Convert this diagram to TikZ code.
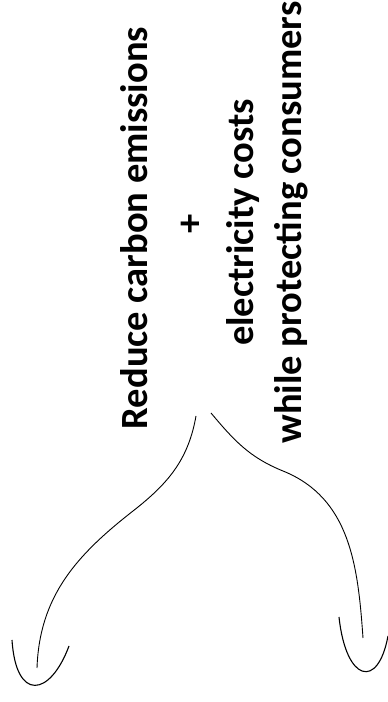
\documentclass[tikz,border=0pt]{standalone}
\usepackage{fontspec}
\setmainfont{Carlito}
\begin{document}
\begin{tikzpicture}[x=1pt,y=1pt,
  lbl/.style={rotate=90,anchor=base,inner sep=0pt,font=\bfseries\fontsize{38.5}{46}\selectfont},
  conn/.style={line width=0.9pt,black},
  headu/.style={line width=1.1pt,black}]
\useasboundingbox (0,0) rectangle (388,702);
\node[lbl] (reduce) at (147,474) {Reduce carbon emissions};
\node[lbl,anchor=center] (plus) at (192,478) {+};
\node[lbl] (elec) at (253,479.5) {electricity costs};
\node[lbl] (while) at (301,479.5) {while protecting consumers};
% left branch
\coordinate (ls) at (196,286);
\coordinate (lm) at (133,191);
\coordinate (le) at (37,34);
\coordinate (la) at (12,62);
\coordinate (lb) at (69,56);
\draw[conn] (ls) to[out=-100,in=38] (lm) to[out=218,in=88] (le);
\draw[headu] (la) .. controls (16,0) and (50,5) .. (lb);
% right branch
\coordinate (rs) at (211,289);
\coordinate (rm) at (283,231);
\coordinate (re) at (363,64);
\coordinate (ra) at (339,85);
\coordinate (rb) at (388,66);
\draw[conn] (rs) to[out=-50,in=158] (rm) to[out=-22,in=94] (re);
\draw[headu] (ra) .. controls (346,20) and (378,12) .. (rb);
\end{tikzpicture}
\end{document}
